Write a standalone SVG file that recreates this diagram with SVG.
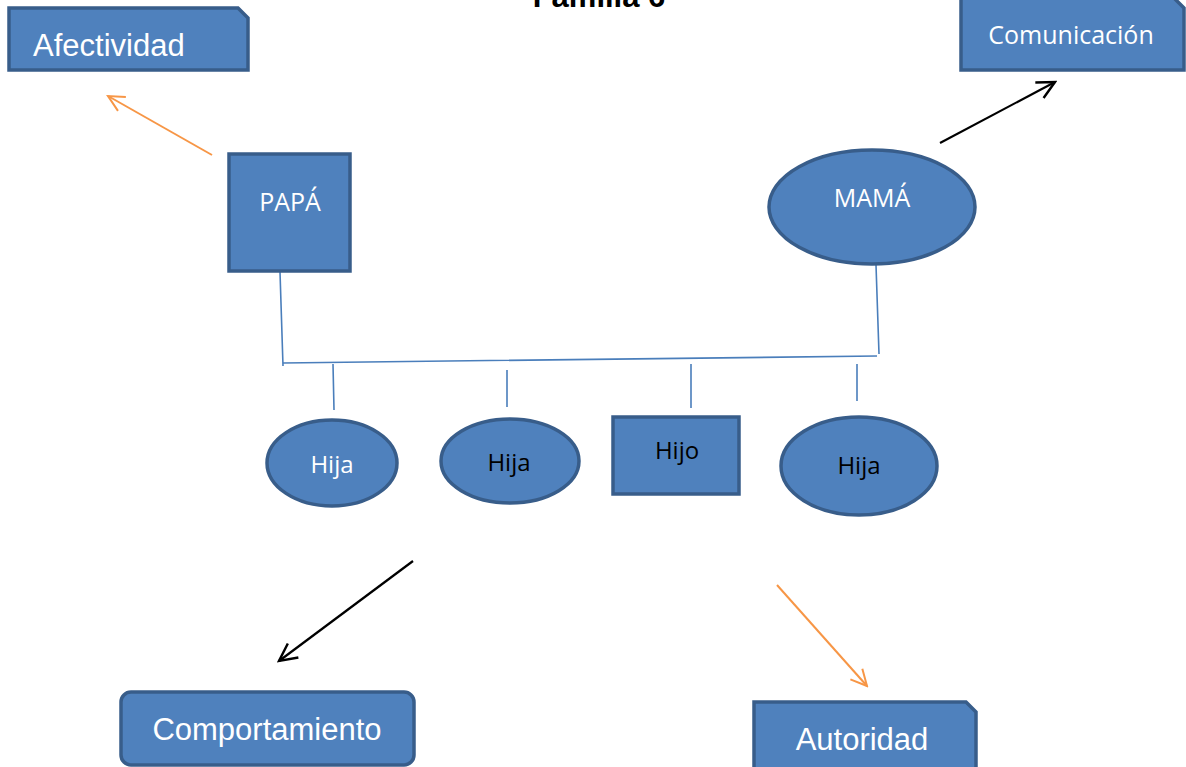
<svg xmlns="http://www.w3.org/2000/svg" width="1186" height="767" viewBox="0 0 1186 767">
<style>
.shape{fill:#4F81BD;stroke:#385D8A;stroke-width:3.5}
.ar{font-family:"Liberation Sans",Arial,sans-serif;fill:#fff}
.cb{font-family:"Open Sans","Noto Sans",sans-serif;text-anchor:middle}
.w{fill:#fff}.k{fill:#000}
.tree{stroke:#4A7EBB;stroke-width:1.6;fill:none}
.orange{stroke:#F79646;stroke-width:2;fill:none}
.black{stroke:#000;stroke-width:2.2;fill:none}
</style>
<defs>
<marker id="ao" viewBox="0 0 20 20" refX="18" refY="10" markerWidth="20" markerHeight="20" markerUnits="userSpaceOnUse" orient="auto"><path d="M2,2 L18,10 L2,18" fill="none" stroke="#F79646" stroke-width="2"/></marker>
<marker id="ab" viewBox="0 0 20 20" refX="18" refY="10" markerWidth="22" markerHeight="22" markerUnits="userSpaceOnUse" orient="auto"><path d="M2,2 L18,10 L2,18" fill="none" stroke="#000" stroke-width="2.2"/></marker>
</defs>
<rect width="1186" height="767" fill="#fff"/>
<text x="599" y="7" text-anchor="middle" font-family="Liberation Sans,Arial,sans-serif" font-weight="bold" font-size="31">Familia 6</text>

<g id="connectors">
<path class="tree" d="M280,272 L283,366 M283,363 L877,356 M876,265 L879,354 M333,364 L334,410 M507,370 L507,407 M691,364 L691,408 M857,364 L857,401"/>
<line class="orange" x1="212" y1="155" x2="108" y2="96" marker-end="url(#ao)"/>
<line class="black" x1="940" y1="143" x2="1055" y2="82" marker-end="url(#ab)"/>
<line class="black" x1="413" y1="561" x2="279" y2="661" marker-end="url(#ab)"/>
<line class="orange" x1="777" y1="585" x2="867" y2="686" marker-end="url(#ao)"/>
</g>

<g id="afectividad">
<path class="shape" d="M9,8 H238 L248,18 V70 H9 Z"/>
<text class="ar" x="33" y="56" font-size="31">Afectividad</text>
</g>
<g id="comunicacion">
<path class="shape" d="M961,-4 H1172 L1184,8 V70 H961 Z"/>
<text class="cb w" x="1071" y="44" font-size="25">Comunicación</text>
</g>
<g id="papa">
<rect class="shape" x="229" y="154" width="121" height="117"/>
<text class="cb w" x="290" y="211" font-size="25">PAPÁ</text>
</g>
<g id="mama">
<ellipse class="shape" cx="872" cy="207" rx="103" ry="57"/>
<text class="cb w" x="872" y="207" font-size="25">MAMÁ</text>
</g>
<g id="hija1">
<ellipse class="shape" cx="332" cy="463" rx="65" ry="43"/>
<text class="cb w" x="332" y="473" font-size="24">Hija</text>
</g>
<g id="hija2">
<ellipse class="shape" cx="510" cy="461" rx="69" ry="42"/>
<text class="cb k" x="509" y="471" font-size="24">Hija</text>
</g>
<g id="hijo">
<rect class="shape" x="613" y="417" width="126" height="77"/>
<text class="cb k" x="677" y="459" font-size="24">Hijo</text>
</g>
<g id="hija3">
<ellipse class="shape" cx="859" cy="466" rx="78" ry="49"/>
<text class="cb k" x="859" y="474" font-size="24">Hija</text>
</g>
<g id="comportamiento">
<rect class="shape" x="121" y="692" width="293" height="73" rx="10"/>
<text class="ar" x="267" y="740" font-size="31" text-anchor="middle">Comportamiento</text>
</g>
<g id="autoridad">
<path class="shape" d="M754,702 H966 L976,712 V770 H754 Z"/>
<text class="ar" x="862" y="750" font-size="31" text-anchor="middle">Autoridad</text>
</g>
</svg>
